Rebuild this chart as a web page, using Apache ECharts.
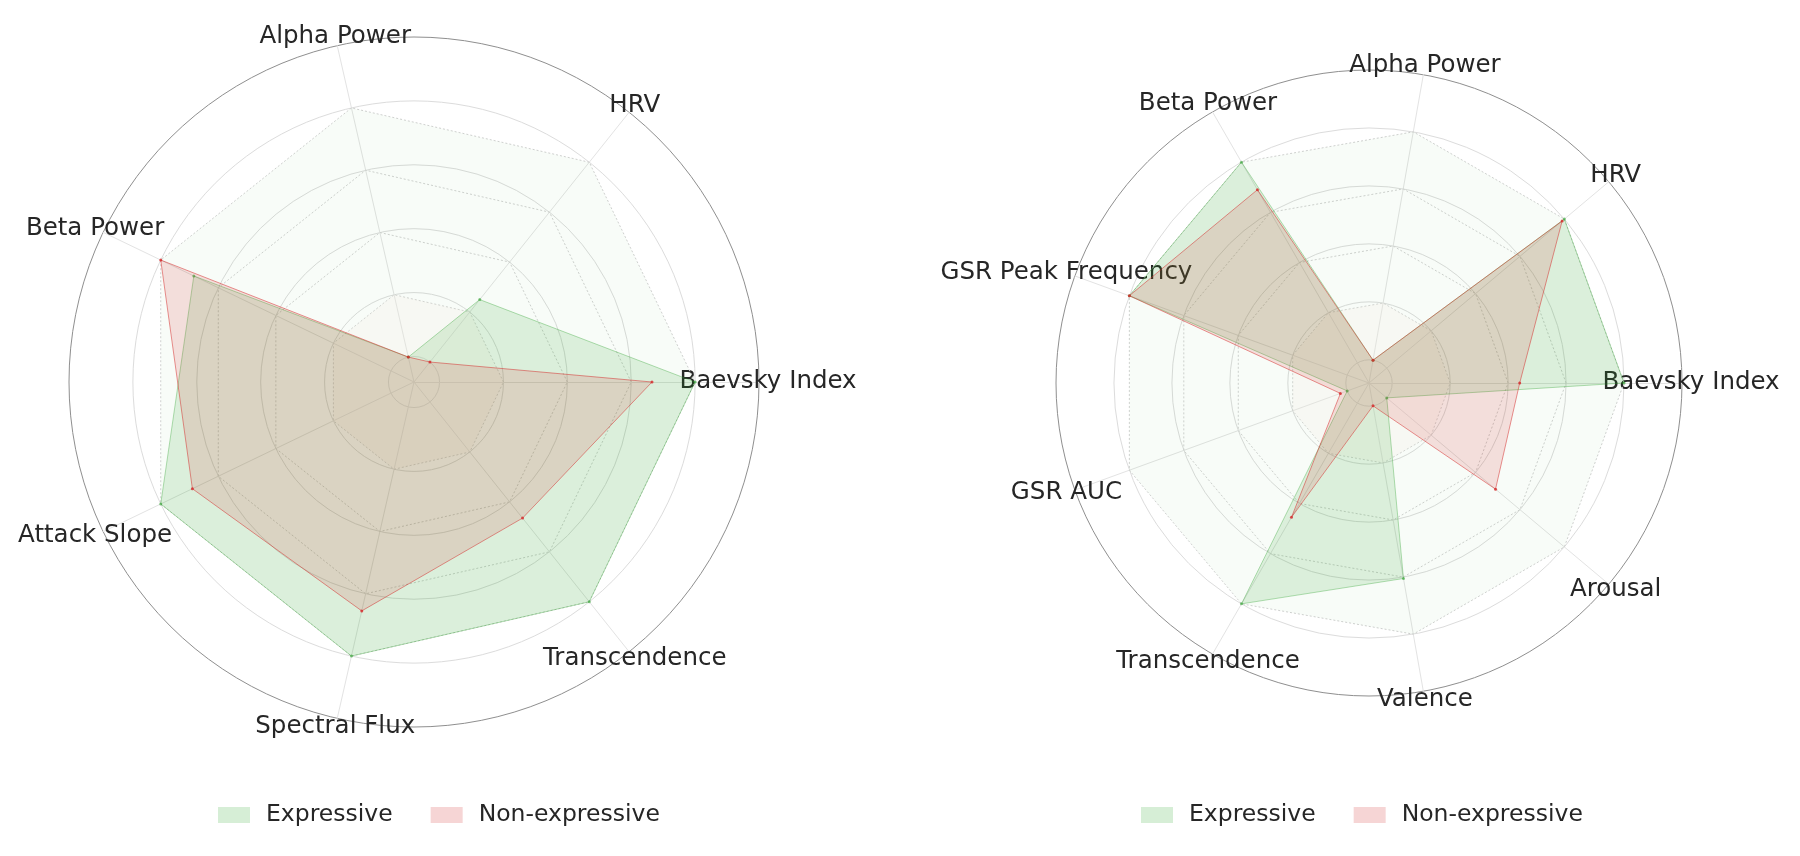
<!DOCTYPE html>
<html lang="en">
<head>
<meta charset="utf-8">
<title>Expressive vs Non-expressive radar</title>
<script src="https://cdn.jsdelivr.net/npm/echarts/dist/echarts.min.js"></script>
<style>
  html, body { margin: 0; padding: 0; background: #fff; }
  #chart { width: 1800px; height: 856px; }
</style>
</head>
<body>
<div id="chart"></div>
<script>
// ---- data (normalised scores) ----
var leftAxes = ['Baevsky Index', 'HRV', 'Alpha Power', 'Beta Power', 'Attack Slope', 'Spectral Flux', 'Transcendence'];
var leftExpressive    = [0.80, 0.25, 0.00, 0.685, 0.80, 0.80, 0.80];
var leftNonExpressive = [0.665, 0.00, 0.00, 0.80, 0.69, 0.655, 0.465];

var rightAxes = ['Baevsky Index', 'HRV', 'Alpha Power', 'Beta Power', 'GSR Peak Frequency', 'GSR AUC', 'Transcendence', 'Valence', 'Arousal'];
var rightExpressive    = [0.80, 0.80, 0.00, 0.80, 0.80, 0.00, 0.80, 0.605, 0.00];
var rightNonExpressive = [0.44, 0.79, 0.00, 0.69, 0.80, 0.025, 0.455, 0.00, 0.49];

var gridLevels = [0.2, 0.4, 0.6, 0.8];   // dotted polygon guides
var radialMin = -0.08, radialMax = 1.0;   // radial range (0 sits a bit off centre)

var seriesNames = ['Expressive', 'Non-expressive'];

// ---- layout ----
var FONT = 'DejaVu Sans';
var panels = [
  { center: [414, 382], radius: 345, axes: leftAxes,  expr: leftExpressive,  nonexpr: leftNonExpressive,  legendLeft: 213 },
  { center: [1369, 383], radius: 313, axes: rightAxes, expr: rightExpressive, nonexpr: rightNonExpressive, legendLeft: 1136 }
];

function innerRadius(p) {
  return p.radius * (0 - radialMin) / (radialMax - radialMin);
}

function guideRows(n) {
  return gridLevels.map(function (lv) {
    var row = [];
    for (var i = 0; i < n; i++) row.push(lv);
    var item = {
      value: row,
      lineStyle: { color: '#d2d2d2', width: 1, type: [2, 2] }
    };
    if (lv === 0.8) item.areaStyle = { color: 'rgba(44,160,44,0.05)' };
    if (lv === 0.2) item.areaStyle = { color: 'rgba(252,242,238,0.4)' };
    return item;
  });
}

var radar = [], polar = [], angleAxis = [], radiusAxis = [], series = [], legend = [];

panels.forEach(function (p, k) {
  radar.push({
    center: p.center,
    radius: p.radius,
    startAngle: 0,
    shape: 'circle',
    splitNumber: 1,
    indicator: p.axes.map(function (a) { return { name: a, min: radialMin, max: radialMax }; }),
    nameGap: 9,
    axisName: { color: '#262626', fontSize: 24.5, fontFamily: FONT, align: 'center', verticalAlign: 'middle' },
    axisLine: { lineStyle: { color: '#e3e3e3', width: 1 } },
    splitLine: { show: false },
    splitArea: { show: false }
  });

  polar.push({ center: p.center, radius: [innerRadius(p), p.radius] });
  angleAxis.push({
    polarIndex: k, type: 'value', min: 0, max: 360,
    axisLine: { show: false }, axisTick: { show: false }, axisLabel: { show: false }, splitLine: { show: false }
  });
  radiusAxis.push({
    polarIndex: k, type: 'value', min: 0, max: 1, interval: 0.2,
    axisLine: { show: false }, axisTick: { show: false }, axisLabel: { show: false },
    splitLine: { show: true, lineStyle: { color: ['#dcdcdc', '#dcdcdc', '#dcdcdc', '#dcdcdc', '#dcdcdc', '#8f8f8f'], width: 1 } }
  });

  series.push({
    type: 'radar', radarIndex: k, name: 'guides', silent: true, symbol: 'none', z: 1,
    data: guideRows(p.axes.length)
  });
  series.push({
    type: 'radar', radarIndex: k, name: seriesNames[0], z: 2,
    symbol: 'circle', symbolSize: 3,
    itemStyle: { color: 'rgba(44,160,44,0.6)' },
    lineStyle: { color: 'rgba(44,160,44,0.35)', width: 1 },
    areaStyle: { color: 'rgba(44,160,44,0.2)' },
    data: [{ value: p.expr, name: seriesNames[0] }]
  });
  series.push({
    type: 'radar', radarIndex: k, name: seriesNames[1], z: 3,
    symbol: 'circle', symbolSize: 3,
    itemStyle: { color: 'rgba(214,39,40,0.8)' },
    lineStyle: { color: 'rgba(214,39,40,0.5)', width: 1 },
    areaStyle: { color: 'rgba(214,39,40,0.2)' },
    data: [{ value: p.nonexpr, name: seriesNames[1] }]
  });

  legend.push({
    left: p.legendLeft, top: 798,
    orient: 'horizontal',
    icon: 'rect', itemWidth: 32, itemHeight: 16, itemGap: 38,
    selectedMode: false,
    textStyle: { fontFamily: FONT, fontSize: 23.5, color: '#262626', padding: [0, 0, 0, 11] },
    data: [
      { name: seriesNames[0], itemStyle: { color: '#d6eed6', borderWidth: 0 } },
      { name: seriesNames[1], itemStyle: { color: '#f6d5d5', borderWidth: 0 } }
    ]
  });
});

var myChart = echarts.init(document.getElementById('chart'), null, { renderer: 'canvas' });
var option = {
  backgroundColor: '#ffffff',
  animation: false,
  legend: legend,
  radar: radar,
  polar: polar,
  angleAxis: angleAxis,
  radiusAxis: radiusAxis,
  series: series
};
myChart.setOption(option);
</script>
</body>
</html>
